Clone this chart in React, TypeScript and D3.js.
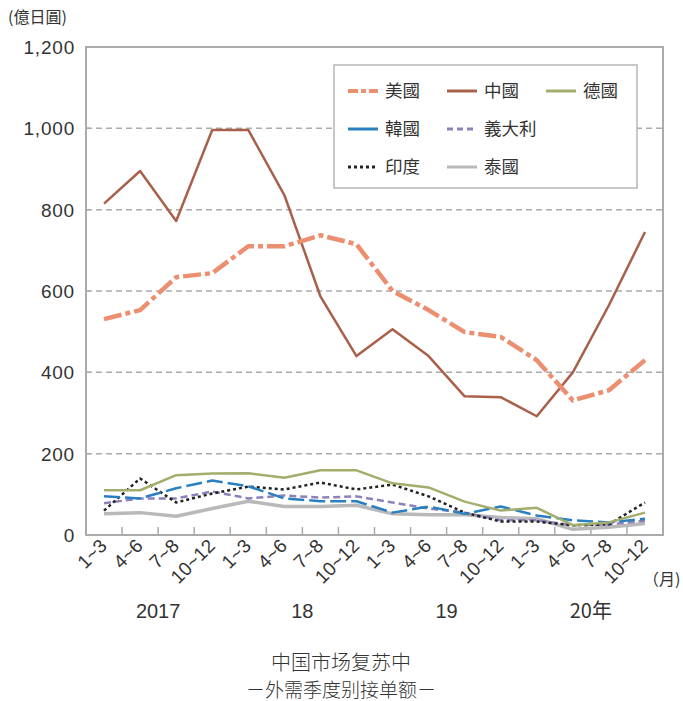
import * as d3 from 'd3'

const quarters = ['1~3', '4~6', '7~8', '10~12', '1~3', '4~6', '7~8', '10~12', '1~3', '4~6', '7~8', '10~12', '1~3', '4~6', '7~8', '10~12']
const years = ['2017', '18', '19', '20年']
const yTicks = [0, 200, 400, 600, 800, 1000, 1200]

const usa = [531, 553, 634, 644, 710, 710, 737, 715, 600, 553, 499, 487, 430, 331, 356, 430]
const china = [815, 895, 772, 996, 996, 836, 587, 440, 506, 440, 341, 339, 292, 400, 565, 745]
const germany = [110, 110, 147, 151, 152, 141, 159, 159, 127, 117, 82, 60, 67, 24, 31, 55]
const korea = [95, 90, 115, 134, 120, 90, 83, 83, 55, 70, 52, 70, 48, 36, 31, 40]
const italy = [78, 90, 90, 107, 90, 97, 92, 95, 80, 65, 55, 36, 36, 24, 26, 35]
const india = [60, 139, 80, 102, 119, 112, 129, 112, 124, 95, 55, 33, 33, 24, 26, 80]
const thailand = [52, 55, 46, 65, 83, 70, 70, 73, 52, 50, 50, 43, 40, 14, 19, 28]

// legendDash: the legend swatch style (韓國 is solid in the legend)
const series = [
  { name: '泰國', values: thailand, color: '#b9b9b9', width: 3.5, dash: '', legendDash: '' },
  { name: '義大利', values: italy, color: '#8d80bd', width: 2.5, dash: '7,4', legendDash: '6,4' },
  { name: '印度', values: india, color: '#222222', width: 2.5, dash: '3,3', legendDash: '3,3' },
  { name: '韓國', values: korea, color: '#2a7fc1', width: 2.5, dash: '16,5', legendDash: '' },
  { name: '德國', values: germany, color: '#a3ad6c', width: 2.5, dash: '', legendDash: '' },
  { name: '中國', values: china, color: '#a9604a', width: 2.5, dash: '', legendDash: '' },
  { name: '美國', values: usa, color: '#ec8e70', width: 4.5, dash: '18,4,5,4', legendDash: '10,3,5,3' },
]

const legendRows = [
  ['美國', '中國', '德國'],
  ['韓國', '義大利'],
  ['印度', '泰國'],
]

const W = 683
const H = 701
const left = 86
const right = 663
const top = 47
const bottom = 535
const cjk = '"Noto Sans CJK TC", "Noto Sans CJK JP", sans-serif'
const cjkSc = '"Noto Sans CJK SC", sans-serif'
const num = '"Liberation Sans", Arial, sans-serif'

export default function App() {
  const x = d3.scaleBand<number>().domain(d3.range(quarters.length)).range([left, right])
  const y = d3.scaleLinear().domain([0, 1200]).range([bottom, top])
  const cx = (i: number) => (x(i) ?? 0) + x.bandwidth() / 2

  const line = d3
    .line<number>()
    .x((_, i) => cx(i))
    .y((d) => y(d))

  const byName = new Map(series.map((s) => [s.name, s]))

  return (
    <svg width={W} height={H} style={{ position: 'absolute', left: 0, top: 0, background: '#fff' }}>
      <text x={8} y={23} fontFamily={cjk} fontSize={16} fill="#333">(億日圓)</text>

      {yTicks.map((t) => (
        <g key={t}>
          {t > 0 && t < 1200 && (
            <line x1={left} x2={right} y1={y(t)} y2={y(t)} stroke="#a9abad" strokeWidth={1.5} strokeDasharray="6,4" />
          )}
          <line x1={left} x2={left + 4} y1={y(t)} y2={y(t)} stroke="#a9abad" strokeWidth={1.5} />
          <text x={75} y={y(t) + 7} textAnchor="end" fontFamily={num} fontSize={19} letterSpacing={0.8} fill="#333">
            {d3.format(',')(t)}
          </text>
        </g>
      ))}

      {d3.range(1, quarters.length).map((i) => (
        <line key={i} x1={x(i)} x2={x(i)} y1={bottom} y2={bottom - 8} stroke="#a9abad" strokeWidth={1.5} />
      ))}

      <rect x={left} y={top} width={right - left} height={bottom - top} fill="none" stroke="#a9abad" strokeWidth={2} />

      {series.map((s) => (
        <path
          key={s.name}
          d={line(s.values) ?? ''}
          fill="none"
          stroke={s.color}
          strokeWidth={s.width}
          strokeDasharray={s.dash || undefined}
          strokeLinejoin="round"
        />
      ))}

      <rect x={334} y={65} width={303} height={123} fill="#fff" stroke="#b5b7b9" strokeWidth={1.5} />
      {legendRows.map((row, r) =>
        row.map((name, c) => {
          const s = byName.get(name)!
          const lx = 348 + c * 99
          const ly = 91 + r * 38
          return (
            <g key={name}>
              <line x1={lx} x2={lx + 30} y1={ly} y2={ly} stroke={s.color} strokeWidth={s.width === 4.5 ? 4 : 3} strokeDasharray={s.legendDash || undefined} />
              <text x={lx + 37} y={ly + 6} fontFamily={cjk} fontSize={17.5} fill="#333">{name}</text>
            </g>
          )
        })
      )}

      {quarters.map((q, i) => (
        <text
          key={i}
          transform={`translate(${cx(i) + 4},${bottom + 12}) rotate(-45)`}
          textAnchor="end"
          fontFamily={num}
          fontSize={19}
          fill="#333"
        >
          {q}
        </text>
      ))}
      <text x={643} y={585} fontFamily={cjk} fontSize={16} fill="#333">（月)</text>

      {years.map((yr, k) => (
        <text key={yr} x={(cx(k * 4) + cx(k * 4 + 3)) / 2} y={618} textAnchor="middle" fontFamily={k === 3 ? cjk : num} fontSize={20} fill="#333">
          {yr}
        </text>
      ))}

      <text x={341} y={670} textAnchor="middle" fontFamily={cjkSc} fontSize={20} fontWeight={300} fill="#333">中国市场复苏中</text>
      <text x={341} y={697} textAnchor="middle" fontFamily={cjkSc} fontSize={19} fontWeight={300} fill="#333">－外需季度别接单额－</text>
    </svg>
  )
}
